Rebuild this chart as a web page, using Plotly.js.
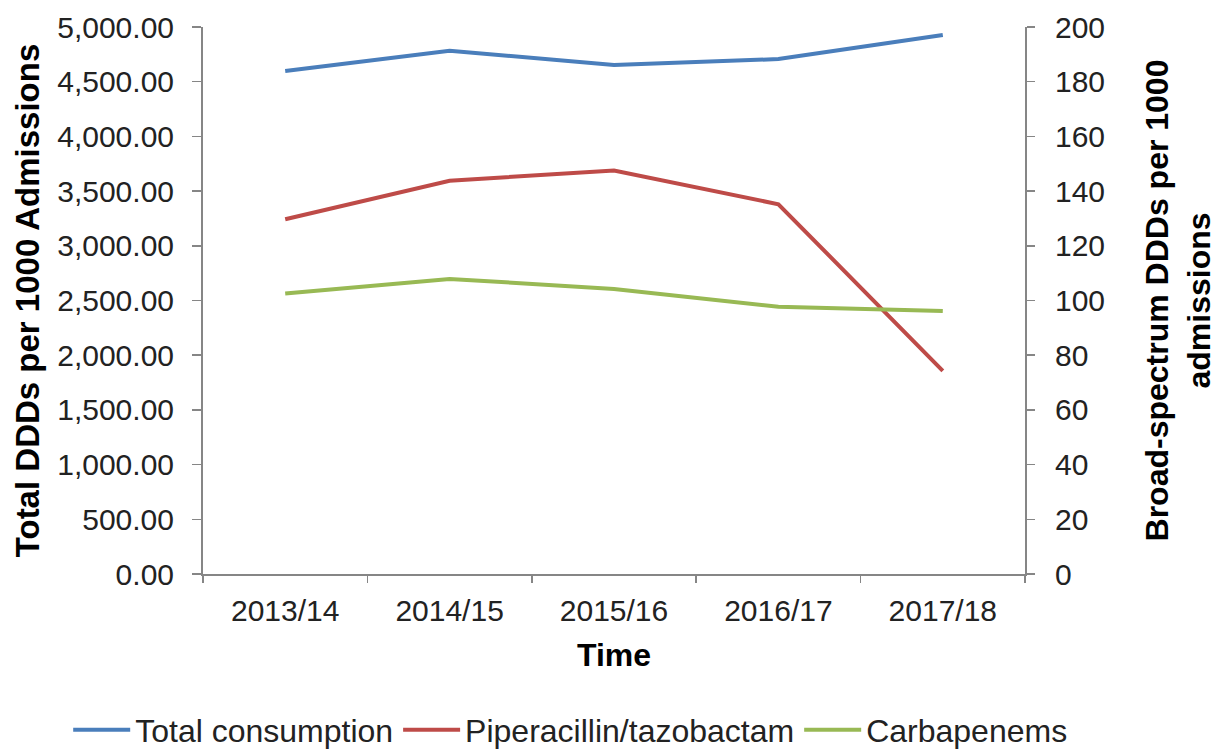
<!DOCTYPE html>
<html>
<head>
<meta charset="utf-8">
<script src="https://cdn.plot.ly/plotly-3.0.1.min.js"></script>
<style>html,body{margin:0;padding:0;background:#fff;}#chart{width:1217px;height:749px;}</style>
</head>
<body>
<div id="chart"></div>
<script>
const categories = ["2013/14", "2014/15", "2015/16", "2016/17", "2017/18"];
const totalConsumption = [4598, 4783, 4653, 4707, 4927];
const piperacillin = [129.7, 143.8, 147.5, 135.2, 74.3];
const carbapenems = [102.6, 107.9, 104.2, 97.7, 96.2];
const leftTicks = [0, 500, 1000, 1500, 2000, 2500, 3000, 3500, 4000, 4500, 5000];
const rightTicks = [0, 20, 40, 60, 80, 100, 120, 140, 160, 180, 200];

const font = "Liberation Sans, Arial, sans-serif";
const axisColor = "#868686";
const textColor = "#222";

const traces = [
  {x: categories, y: totalConsumption, name: "Total consumption", type: "scatter", mode: "lines",
   line: {color: "#4A7EBB", width: 4}, yaxis: "y"},
  {x: categories, y: piperacillin, name: "Piperacillin/tazobactam", type: "scatter", mode: "lines",
   line: {color: "#BE4B48", width: 4}, yaxis: "y2"},
  {x: categories, y: carbapenems, name: "Carbapenems", type: "scatter", mode: "lines",
   line: {color: "#98B954", width: 4}, yaxis: "y2"}
];

const layout = {
  width: 1217, height: 749,
  margin: {l: 203, r: 192, t: 27, b: 175, autoexpand: false},
  paper_bgcolor: "#fff", plot_bgcolor: "#fff",
  font: {family: font, size: 30, color: textColor},
  showlegend: true,
  legend: {orientation: "h", x: -0.164, xanchor: "left", xref: "paper", y: -0.285, yanchor: "middle", yref: "paper",
           font: {family: font, size: 32, color: textColor}, itemwidth: 57},
  xaxis: {
    type: "category", tickson: "boundaries", ticks: "outside", ticklen: 7, tickcolor: axisColor, tickwidth: 1.5,
    showline: true, linecolor: axisColor, linewidth: 2, showgrid: false, zeroline: false,
    tickfont: {family: font, size: 30, color: textColor},
    ticklabelstandoff: 9,
    range: [-0.5, 4.5],
    title: {text: "<b>Time</b>", font: {family: font, size: 32, color: "#000"}, standoff: 18}
  },
  yaxis: {
    range: [0, 5000], tickvals: leftTicks, tickformat: ",.2f",
    ticks: "outside", ticklen: 9, tickcolor: axisColor, tickwidth: 1.5,
    showline: true, linecolor: axisColor, linewidth: 2, showgrid: false, zeroline: false,
    tickfont: {family: font, size: 30, color: textColor},
    ticklabelstandoff: 12,
    title: {text: "<b>Total DDDs per 1000 Admissions</b>", font: {family: font, size: 33, color: "#000"}, standoff: 8}
  },
  yaxis2: {
    overlaying: "y", side: "right", range: [0, 200], tickvals: rightTicks,
    ticks: "outside", ticklen: 8, tickcolor: axisColor, tickwidth: 1.5,
    showline: true, linecolor: axisColor, linewidth: 2, showgrid: false, zeroline: false,
    tickfont: {family: font, size: 30, color: textColor},
    ticklabelstandoff: 14,
    title: {text: "<b>Broad-spectrum DDDs per 1000<br>admissions</b>", font: {family: font, size: 32, color: "#000"}, standoff: 42}
  }
};

Plotly.newPlot("chart", traces, layout, {displayModeBar: false, staticPlot: true});
</script>
</body>
</html>
